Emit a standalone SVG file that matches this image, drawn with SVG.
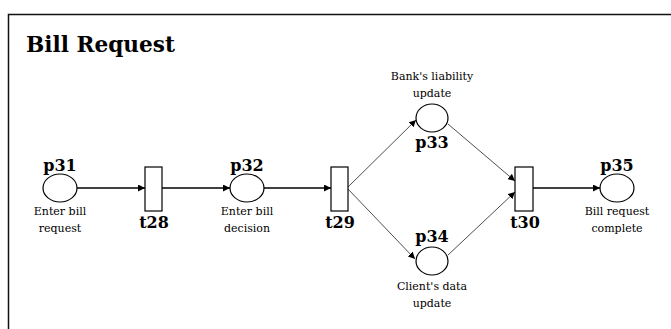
<svg xmlns="http://www.w3.org/2000/svg" width="671" height="329" viewBox="0 0 671 329">
<style>
.pl{fill:#fff;stroke:#000;stroke-width:1.2}
.tr{fill:#fff;stroke:#000;stroke-width:1.2}
.id{font-family:"DejaVu Serif",serif;font-weight:bold;font-size:16px;fill:#000;text-anchor:middle}
.lb{font-family:"DejaVu Serif",serif;font-size:11px;fill:#000;text-anchor:middle}
.a{stroke:#000;stroke-width:1.3;fill:none;marker-end:url(#ah)}
.d{stroke:#222;stroke-width:0.8;fill:none;marker-end:url(#ah)}
</style>
<defs>
<marker id="ah" viewBox="0 0 10 10" refX="10" refY="5" markerWidth="7" markerHeight="7" markerUnits="userSpaceOnUse" orient="auto"><path d="M0,0 L10,5 L0,10 Z" fill="#000"/></marker>
</defs>
<rect width="671" height="329" fill="#fff"/>
<path d="M8.5,329 V14.5 H671" fill="none" stroke="#111" stroke-width="1.5"/>
<text x="26" y="52" font-family="DejaVu Serif,serif" font-weight="bold" font-size="23px" textLength="149" lengthAdjust="spacingAndGlyphs">Bill Request</text>
<g id="connectors">
<line class="a" x1="77" y1="188" x2="145" y2="188"/>
<line class="a" x1="162" y1="188" x2="230" y2="188"/>
<line class="a" x1="264" y1="188" x2="331" y2="188"/>
<line class="d" x1="348" y1="187" x2="416" y2="120"/>
<line class="d" x1="348" y1="189" x2="415" y2="259"/>
<line class="d" x1="448" y1="124" x2="515" y2="181"/>
<line class="d" x1="448" y1="255" x2="515" y2="192"/>
<line class="a" x1="533" y1="188" x2="600" y2="188"/>
</g>
<g id="p31"><ellipse class="pl" cx="60" cy="188" rx="17" ry="14"/><text class="id" x="60" y="171">p31</text><text class="lb" x="60" y="215">Enter bill</text><text class="lb" x="60" y="232">request</text></g>
<g id="t28"><rect class="tr" x="145" y="167" width="17" height="44"/><text class="id" x="154" y="228">t28</text></g>
<g id="p32"><ellipse class="pl" cx="247" cy="188" rx="17" ry="14"/><text class="id" x="247" y="171">p32</text><text class="lb" x="247" y="215">Enter bill</text><text class="lb" x="247" y="232">decision</text></g>
<g id="t29"><rect class="tr" x="331" y="167" width="17" height="44"/><text class="id" x="340" y="228">t29</text></g>
<g id="p33"><ellipse class="pl" cx="432" cy="118" rx="16" ry="14"/><text class="id" x="432" y="148">p33</text><text class="lb" x="432" y="80">Bank's liability</text><text class="lb" x="432" y="97">update</text></g>
<g id="p34"><ellipse class="pl" cx="432" cy="261" rx="16" ry="14"/><text class="id" x="432" y="242">p34</text><text class="lb" x="432" y="290">Client's data</text><text class="lb" x="432" y="307">update</text></g>
<g id="t30"><rect class="tr" x="515" y="167" width="18" height="44"/><text class="id" x="525" y="228">t30</text></g>
<g id="p35"><ellipse class="pl" cx="617" cy="188" rx="17" ry="14"/><text class="id" x="617" y="171">p35</text><text class="lb" x="617" y="215">Bill request</text><text class="lb" x="617" y="232">complete</text></g>
</svg>
